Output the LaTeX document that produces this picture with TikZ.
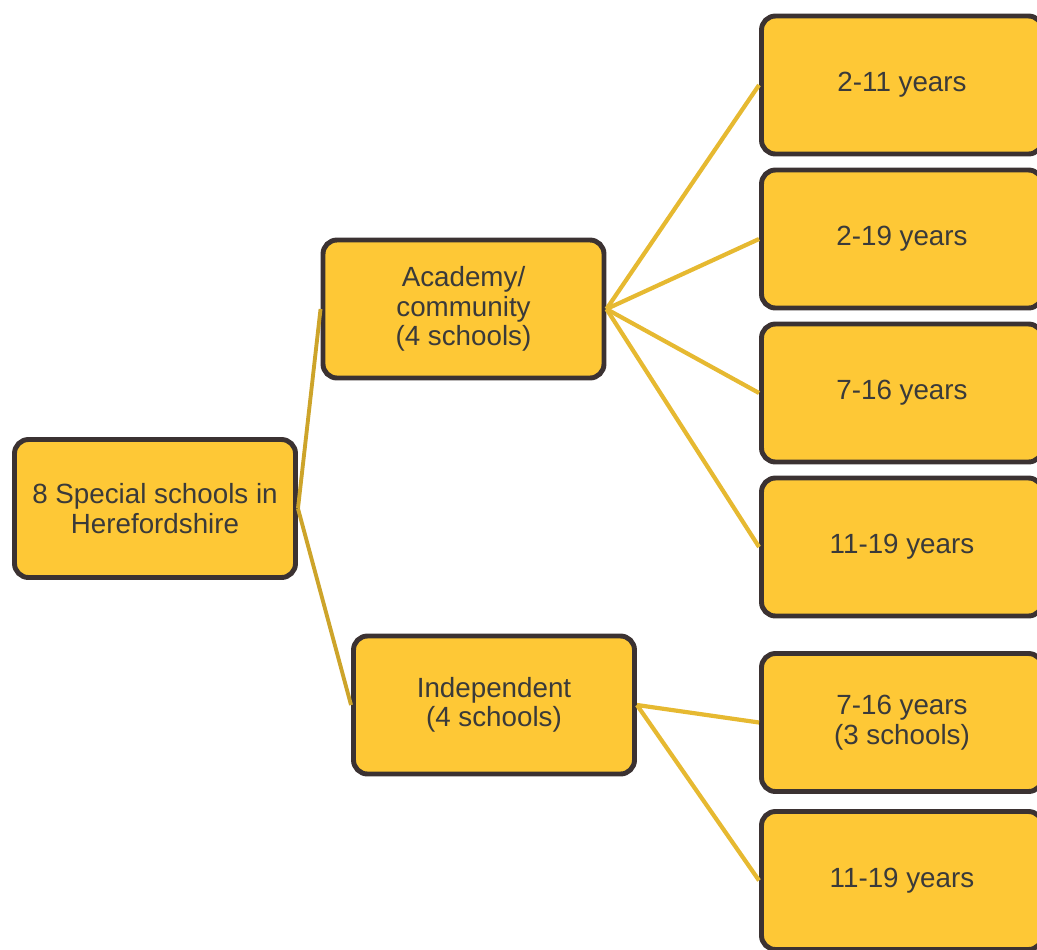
\documentclass[tikz,border=0pt]{standalone}
\usepackage{fontspec}
\setmainfont{Liberation Sans}
\usetikzlibrary{positioning}
\definecolor{boxfill}{HTML}{FEC836}
\definecolor{boxline}{HTML}{3B3232}
\definecolor{boxtext}{HTML}{3A3A3A}
\definecolor{trunk}{HTML}{CDA42A}
\definecolor{branch}{HTML}{E6B931}

\begin{document}
\begin{tikzpicture}[on grid,node distance=3.08cm,
 box/.style={draw=boxline,fill=boxfill,line width=2.8pt,rounded corners=0.28cm,
  minimum width=5.62cm,minimum height=2.76cm,align=center,text=boxtext,
  font=\fontsize{15.8}{16.8}\selectfont},
 trunkline/.style={draw=trunk,line width=2.2pt},
 branchline/.style={draw=branch,line width=2.4pt}]
 \useasboundingbox (0,0) rectangle (20.74,-18.98);
 \node[box] (root) at (3.10,-10.17) {8 Special schools in\\Herefordshire};
 \node[box] (acad) at (9.27,-6.18) {Academy/\\community\\(4 schools)};
 \node[box] (indep) at (9.88,-14.10) {Independent\\(4 schools)};
 \node[box] (a1) at (18.04,-1.70) {2-11 years};
 \node[box] (a2)[below=of a1] {2-19 years};
 \node[box] (a3)[below=of a2] {7-16 years};
 \node[box] (a4)[below=of a3] {11-19 years};
 \node[box] (i1) at (18.04,-14.45) {7-16 years\\(3 schools)};
 \node[box] (i2)[below=3.16cm of i1] {11-19 years};
 \path[trunkline]
 (root.east) edge (acad.west)
 (root.east) edge (indep.west);
 \path[branchline]
 (acad.east) edge (a1.west)
 (acad.east) edge (a2.west)
 (acad.east) edge (a3.west)
 (acad.east) edge (a4.west)
 (indep.east) edge (i1.west)
 (indep.east) edge (i2.west);
\end{tikzpicture}
\end{document}
